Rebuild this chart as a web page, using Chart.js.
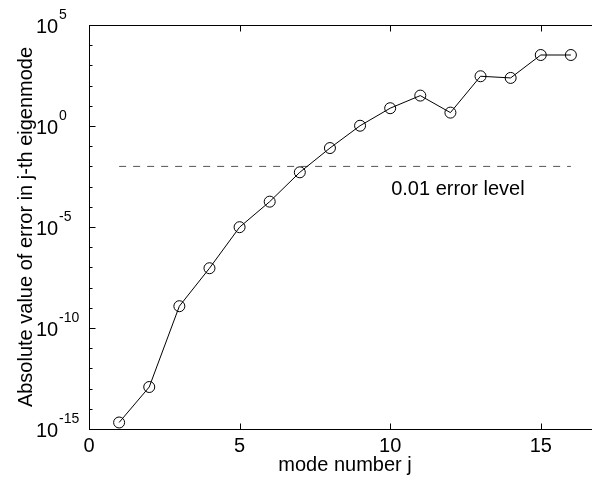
<!DOCTYPE html>
<html>
<head>
<meta charset="utf-8">
<script src="https://cdn.jsdelivr.net/npm/chart.js@4/dist/chart.umd.min.js"></script>
<style>
  html, body { margin: 0; padding: 0; background: #fff; overflow: hidden; }
  #wrap { width: 592px; height: 478px; overflow: hidden; position: relative; }
  #chart { display: block; }
</style>
</head>
<body>
<div id="wrap"><canvas id="chart" width="610" height="478"></canvas></div>
<script>
// mode number j and absolute error for that eigenmode
const modes = [1, 2, 3, 4, 5, 6, 7, 8, 9, 10, 11, 12, 13, 14, 15, 16];
const errors = [2.1e-15, 1.2e-13, 1.2e-9, 9.1e-8, 9.8e-6, 1.8e-4, 5.1e-3, 0.081,
  1.03, 7.6, 32, 4.6, 290, 240, 3270, 3270];

// reference level drawn as dashed line
const levelX = [1, 16];
const levelValue = 0.01;
const levelLabel = '0.01 error level';

const xTicks = [0, 5, 10, 15];
const yLabelExponents = [-15, -10, -5, 0, 5];

const xTitle = 'mode number j';
const yTitle = 'Absolute value of error in j-th eigenmode';

(function () {
  const FONT = "'Liberation Sans', Arial, Helvetica, sans-serif";

  function line(ctx, x1, y1, x2, y2) {
    ctx.beginPath();
    ctx.moveTo(x1, y1);
    ctx.lineTo(x2, y2);
    ctx.stroke();
  }

  const framePlugin = {
    id: 'frame',
    afterDraw(chart) {
      const { ctx, chartArea: a } = chart;
      const x = chart.scales.x;
      const y = chart.scales.y;
      ctx.save();
      ctx.strokeStyle = '#000';
      ctx.lineWidth = 1;
      const L = Math.round(a.left) + 0.5;
      const T = Math.round(a.top) + 0.5;
      const B = Math.round(a.bottom) + 0.5;
      const R = Math.round(a.right) + 0.5;
      ctx.strokeRect(L, T, R - L, B - T);

      // x ticks, inward on bottom and top
      xTicks.forEach((v) => {
        const px = Math.round(x.getPixelForValue(v)) + 0.5;
        line(ctx, px, B, px, B - 6);
        line(ctx, px, T, px, T + 6);
      });

      // y ticks at every decade, longer at labelled ones
      for (let e = -15; e <= 5; e++) {
        const py = Math.round(y.getPixelForValue(Math.pow(10, e))) + 0.5;
        const len = yLabelExponents.includes(e) ? 6 : 3;
        line(ctx, L, py, L + len, py);
      }

      ctx.fillStyle = '#000';
      ctx.textBaseline = 'alphabetic';

      // x tick labels
      ctx.font = `20px ${FONT}`;
      ctx.textAlign = 'center';
      xTicks.forEach((v) => {
        ctx.fillText(String(v), x.getPixelForValue(v), a.bottom + 23);
      });

      // y tick labels: 10 with raised exponent
      yLabelExponents.forEach((e) => {
        const py = y.getPixelForValue(Math.pow(10, e));
        ctx.textAlign = 'left';
        ctx.font = `20px ${FONT}`;
        ctx.fillText('10', 36, py + 8);
        ctx.font = `14px ${FONT}`;
        ctx.fillText(String(e), 59, py - 6);
      });

      // axis titles
      ctx.font = `20px ${FONT}`;
      ctx.textAlign = 'center';
      ctx.fillText(xTitle, (a.left + a.right) / 2, 471);

      ctx.save();
      ctx.translate(32, (a.top + a.bottom) / 2);
      ctx.rotate(-Math.PI / 2);
      ctx.fillText(yTitle, 0, 0);
      ctx.restore();

      // level annotation
      ctx.textAlign = 'left';
      ctx.fillText(levelLabel, x.getPixelForValue(10) + 1, y.getPixelForValue(levelValue) + 29);

      ctx.restore();
    },
  };

  new Chart(document.getElementById('chart'), {
    type: 'line',
    data: {
      datasets: [
        {
          label: 'error',
          data: modes.map((m, i) => ({ x: m, y: errors[i] })),
          borderColor: '#000',
          borderWidth: 1,
          pointRadius: 5.5,
          pointBorderWidth: 1,
          pointBorderColor: '#000',
          pointBackgroundColor: 'rgba(0,0,0,0)',
          tension: 0,
          fill: false,
        },
        {
          label: 'level',
          data: levelX.map((v) => ({ x: v, y: levelValue })),
          borderColor: '#555',
          borderWidth: 1,
          borderDash: [7, 7],
          pointRadius: 0,
          fill: false,
        },
      ],
    },
    options: {
      responsive: false,
      animation: false,
      devicePixelRatio: 1,
      layout: { padding: { left: 89, top: 25, right: 9, bottom: 49 } },
      scales: {
        x: { type: 'linear', min: 0, max: 17, display: false },
        y: { type: 'logarithmic', min: 1e-15, max: 1e5, display: false },
      },
      plugins: {
        legend: { display: false },
        tooltip: { enabled: false },
      },
    },
    plugins: [framePlugin],
  });
})();
</script>
</body>
</html>
